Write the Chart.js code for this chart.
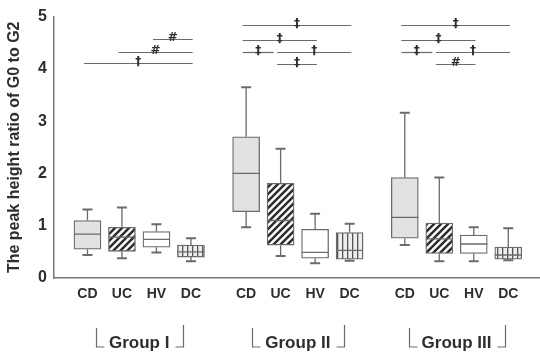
<!DOCTYPE html>
<html>
<head>
<meta charset="utf-8">
<script src="https://cdn.jsdelivr.net/npm/chart.js@4.4.1/dist/chart.umd.min.js"></script>
<style>
  html, body { margin: 0; padding: 0; background: #fff; }
</style>
</head>
<body>
<canvas id="myChart" width="540" height="355"></canvas>
<script>
// ---- data ----
const groups = ['Group I', 'Group II', 'Group III'];
const subjects = ['CD', 'UC', 'HV', 'DC'];
const yTicks = [0, 1, 2, 3, 4, 5];
const yTitle = 'The peak height ratio of G0 to G2';

// one entry per box: Group I CD..DC, Group II CD..DC, Group III CD..DC
const whiskerMin = [0.44, 0.38, 0.49, 0.32,  0.97, 0.42, 0.28, 0.33,  0.63, 0.32, 0.32, 0.34];
const q1         = [0.55, 0.51, 0.59, 0.40,  1.27, 0.63, 0.38, 0.36,  0.76, 0.47, 0.47, 0.36];
const median     = [0.84, 0.78, 0.74, 0.50,  2.00, 1.10, 0.49, 0.53,  1.16, 0.75, 0.65, 0.44];
const q3         = [1.10, 0.97, 0.89, 0.63,  2.70, 1.81, 0.93, 0.87,  1.92, 1.05, 0.82, 0.59];
const whiskerMax = [1.31, 1.35, 1.03, 0.76,  3.65, 2.47, 1.23, 1.04,  3.16, 1.92, 0.97, 0.95];

// significance bars
const sigGroup = [0, 0, 0,  1, 1, 1, 1, 1,  2, 2, 2, 2, 2];
const sigFrom  = ['CD', 'UC', 'HV',  'CD', 'CD', 'CD', 'UC', 'UC',  'CD', 'CD', 'CD', 'UC', 'UC'];
const sigTo    = ['DC', 'DC', 'DC',  'DC', 'HV', 'UC', 'DC', 'HV',  'DC', 'HV', 'UC', 'DC', 'HV'];
const sigLevel = [4.11, 4.33, 4.58,  4.83, 4.56, 4.32, 4.32, 4.09,  4.83, 4.56, 4.32, 4.32, 4.09];
const sigMark  = ['\u2020', '#', '#',  '\u2021', '\u2021', '\u2021', '\u2020', '\u2021',  '\u2021', '\u2021', '\u2021', '\u2020', '#'];

// ---- layout ----
const groupGap = 0.6;
function pos(g, s) { return g * (subjects.length + groupGap) + s; }
const positions = [];
groups.forEach((g, gi) => subjects.forEach((s, si) => positions.push(pos(gi, si))));

const FONT = "'Liberation Sans', Arial, sans-serif";
const INK = '#2e2e2e';
const LINE = '#6b6b6b';

// fills
function makePattern(w, h, draw) {
  const c = document.createElement('canvas');
  c.width = w; c.height = h;
  const g = c.getContext('2d');
  draw(g, w, h);
  return g.createPattern(c, 'repeat');
}
const fillCD = '#e2e2e2';
const fillUC = makePattern(7, 7, (g, w, h) => {
  g.fillStyle = '#fafafa'; g.fillRect(0, 0, w, h);
  g.strokeStyle = '#2b2b2b'; g.lineWidth = 2.4;
  g.beginPath();
  g.moveTo(0, h); g.lineTo(w, 0);
  g.moveTo(-2, 2); g.lineTo(2, -2);
  g.moveTo(w - 2, h + 2); g.lineTo(w + 2, h - 2);
  g.stroke();
});
const fillHV = '#ffffff';
const fillDC = makePattern(5, 5, (g, w, h) => {
  g.fillStyle = '#eeeeee'; g.fillRect(0, 0, w, h);
  g.fillStyle = '#555'; g.fillRect(2, 0, 1.3, h);
});
const fillBySubject = { CD: fillCD, UC: fillUC, HV: fillHV, DC: fillDC };
const fills = positions.map((p, i) => fillBySubject[subjects[i % subjects.length]]);

const boxData = positions.map((x, i) => ({ x: x, y: [q1[i], q3[i]] }));

// whiskers + medians
const boxExtras = {
  id: 'boxExtras',
  afterDatasetsDraw(chart) {
    const { ctx, scales: { y } } = chart;
    const meta = chart.getDatasetMeta(0);
    ctx.save();
    ctx.strokeStyle = LINE;
    meta.data.forEach((bar, i) => {
      const cx = bar.x, w = bar.width;
      const yTop = y.getPixelForValue(whiskerMax[i]);
      const yBot = y.getPixelForValue(whiskerMin[i]);
      ctx.lineWidth = 1.3;
      ctx.beginPath();
      ctx.moveTo(cx, y.getPixelForValue(q3[i])); ctx.lineTo(cx, yTop);
      ctx.moveTo(cx, y.getPixelForValue(q1[i])); ctx.lineTo(cx, yBot);
      const ym = y.getPixelForValue(median[i]);
      ctx.moveTo(cx - w / 2, ym); ctx.lineTo(cx + w / 2, ym);
      ctx.stroke();
      ctx.lineWidth = 2;
      ctx.beginPath();
      ctx.moveTo(cx - 5, yTop); ctx.lineTo(cx + 5, yTop);
      ctx.moveTo(cx - 5, yBot); ctx.lineTo(cx + 5, yBot);
      ctx.stroke();
    });
    ctx.restore();
  }
};

// significance bars and group captions
const annotations = {
  id: 'annotations',
  afterDraw(chart) {
    const { ctx, scales: { x, y }, chartArea } = chart;
    ctx.save();
    ctx.strokeStyle = LINE;
    ctx.fillStyle = INK;
    ctx.lineWidth = 1.2;
    ctx.textAlign = 'center';
    sigLevel.forEach((lv, k) => {
      const g = sigGroup[k];
      const a = subjects.indexOf(sigFrom[k]);
      const b = subjects.indexOf(sigTo[k]);
      const blocked = sigLevel.some((l2, j) => j !== k && sigGroup[j] === g && l2 === lv && sigFrom[j] === sigTo[k]);
      const x1 = x.getPixelForValue(pos(g, a) - 0.1);
      const x2 = x.getPixelForValue(pos(g, b) + (blocked ? -0.2 : 0.05));
      const yy = Math.round(y.getPixelForValue(lv)) + 0.5;
      ctx.beginPath();
      ctx.moveTo(x1, yy); ctx.lineTo(x2, yy);
      ctx.stroke();
      ctx.font = "bold 12px 'DejaVu Sans', sans-serif";
      ctx.textBaseline = 'alphabetic';
      ctx.fillText(sigMark[k], (x1 + x2) / 2, yy + 1);
    });

    const base = chartArea.bottom;
    ctx.font = 'bold 17px ' + FONT;
    ctx.textBaseline = 'middle';
    groups.forEach((name, g) => {
      const xa = x.getPixelForValue(pos(g, 0));
      const xb = x.getPixelForValue(pos(g, subjects.length - 1));
      const cx = (xa + xb) / 2;
      const tw = ctx.measureText(name).width;
      ctx.fillText(name, cx, base + 65);
      const L = Math.round(cx - tw / 2 - 13) + 0.5;
      const R = Math.round(cx + tw / 2 + 14) + 0.5;
      ctx.beginPath();
      ctx.moveTo(L, base + 50); ctx.lineTo(L, base + 69); ctx.lineTo(L + 8, base + 69);
      ctx.moveTo(R, base + 47); ctx.lineTo(R, base + 69); ctx.lineTo(R - 8, base + 69);
      ctx.stroke();
    });
    ctx.restore();
  }
};

const ctx = document.getElementById('myChart').getContext('2d');
new Chart(ctx, {
  type: 'bar',
  data: {
    datasets: [{
      data: boxData,
      backgroundColor: fills,
      borderColor: LINE,
      borderWidth: 1.3,
      borderSkipped: false,
      barThickness: 27
    }]
  },
  options: {
    responsive: false,
    animation: false,
    layout: { padding: { top: 15, left: 0, right: 0, bottom: 0 } },
    plugins: { legend: { display: false }, tooltip: { enabled: false } },
    scales: {
      x: {
        type: 'linear',
        offset: false,
        min: -0.97,
        max: 13.12,
        grid: { display: false, drawTicks: false, offset: false },
        border: { color: '#777', width: 1.5 },
        afterBuildTicks: (s) => { s.ticks = positions.map(v => ({ value: v })); },
        afterFit: (s) => { s.height = 77; },
        ticks: {
          autoSkip: false,
          maxRotation: 0,
          padding: 8,
          color: INK,
          font: { family: FONT, size: 14, weight: 'bold' },
          callback: (v, i) => subjects[i % subjects.length]
        }
      },
      y: {
        min: 0,
        max: 5,
        grid: { display: false, drawTicks: false },
        border: { color: '#777', width: 1.5 },
        afterBuildTicks: (s) => { s.ticks = yTicks.map(v => ({ value: v })); },
        afterFit: (s) => { s.width = 54; },
        ticks: {
          padding: 7,
          color: INK,
          font: { family: FONT, size: 16, weight: 'bold' }
        },
        title: {
          display: true,
          text: yTitle,
          color: INK,
          padding: { top: 5, bottom: 0 },
          font: { family: FONT, size: 16, weight: 'bold' }
        }
      }
    }
  },
  plugins: [boxExtras, annotations]
});
</script>
</body>
</html>
